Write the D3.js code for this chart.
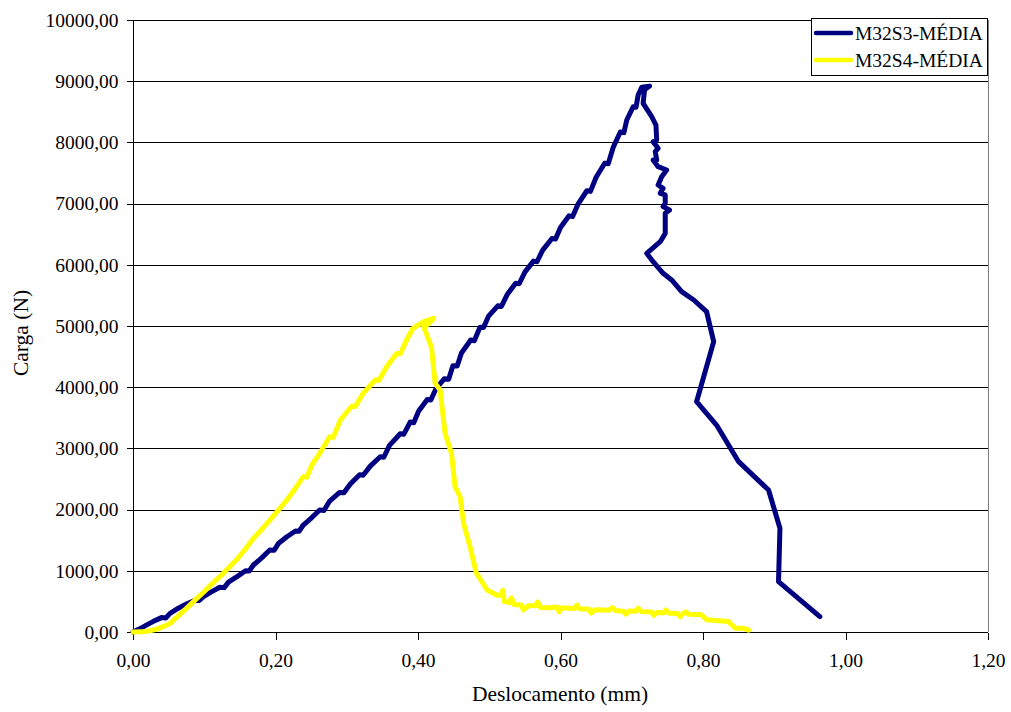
<!DOCTYPE html>
<html>
<head>
<meta charset="utf-8">
<script src="https://cdn.jsdelivr.net/npm/d3@7"></script>
<style>
  html, body { margin: 0; padding: 0; background: #ffffff; }
  svg text { font-family: "Liberation Serif", "Times New Roman", serif; fill: #000; }
</style>
</head>
<body>
<svg id="chart" width="1011" height="712"></svg>
<script>
// ---- Data ----
const seriesNames = ["M32S3-MÉDIA", "M32S4-MÉDIA"];
const xTicks = [0, 0.2, 0.4, 0.6, 0.8, 1.0, 1.2];
const yTicks = [0, 1000, 2000, 3000, 4000, 5000, 6000, 7000, 8000, 9000, 10000];

// M32S3-MÉDIA : [displacement (mm), load (N)]
const s3Points = [
  [0,0],[0.010,55],[0.020,120],[0.028,170],[0.040,235],[0.046,230],[0.052,305],[0.063,385],[0.075,458],
  [0.087,520],[0.093,515],[0.099,577],[0.110,655],[0.122,730],[0.128,725],[0.134,815],[0.146,904],[0.158,1000],
  [0.163,995],[0.169,1095],[0.181,1215],[0.192,1340],[0.198,1335],[0.204,1445],[0.216,1557],[0.228,1650],
  [0.233,1645],[0.239,1748],[0.251,1870],[0.262,1993],[0.268,1985],[0.276,2140],[0.290,2280],[0.296,2275],
  [0.305,2418],[0.318,2570],[0.323,2560],[0.333,2710],[0.347,2864],[0.352,2855],[0.360,3050],[0.375,3240],
  [0.380,3230],[0.389,3430],[0.394,3420],[0.401,3610],[0.413,3800],[0.418,3790],[0.425,3970],[0.437,4140],
  [0.443,4130],[0.449,4350],[0.455,4345],[0.461,4560],[0.474,4770],[0.479,4760],[0.487,4980],[0.492,4975],
  [0.499,5160],[0.512,5330],[0.517,5320],[0.525,5510],[0.537,5700],[0.542,5690],[0.550,5880],[0.562,6060],
  [0.567,6050],[0.575,6240],[0.588,6430],[0.593,6420],[0.600,6610],[0.612,6800],[0.617,6790],[0.625,7000],
  [0.637,7210],[0.642,7200],[0.650,7430],[0.662,7660],[0.667,7650],[0.674,7920],[0.684,8170],[0.689,8160],
  [0.693,8366],[0.702,8583],[0.706,8575],[0.709,8775],[0.714,8900],[0.725,8920],[0.718,8860],
  [0.716,8639],[0.728,8420],[0.734,8284],[0.735,8039],[0.730,8012],[0.737,7903],[0.733,7848],
  [0.735,7712],[0.730,7712],[0.737,7603],[0.749,7549],[0.742,7440],[0.737,7304],[0.744,7250],
  [0.740,7168],[0.747,7141],[0.747,7005],[0.744,6950],[0.753,6895],[0.747,6841],[0.747,6514],
  [0.740,6378],[0.721,6188],[0.730,6051],[0.744,5861],[0.756,5752],[0.770,5561],[0.787,5425],
  [0.805,5234],[0.810,4989],[0.815,4744],[0.791,3763],[0.819,3382],[0.850,2783],[0.892,2320],
  [0.908,1694],[0.906,822],[0.964,250]
];

// M32S4-MÉDIA : [displacement (mm), load (N)]
const s4Points = [
  [0,0],[0.020,10],[0.033,44],[0.045,100],[0.052,142],[0.063,260],[0.075,387],[0.087,520],
  [0.099,650],[0.110,780],[0.122,904],[0.134,1045],[0.146,1188],[0.158,1360],[0.169,1531],
  [0.181,1680],[0.192,1830],[0.204,1990],[0.216,2157],[0.228,2350],[0.239,2538],[0.244,2530],
  [0.251,2730],[0.262,2920],[0.276,3190],[0.281,3180],[0.291,3464],[0.307,3690],[0.312,3685],
  [0.323,3900],[0.340,4120],[0.345,4110],[0.356,4335],[0.370,4550],[0.375,4545],[0.384,4771],
  [0.393,4962],[0.408,5071],[0.422,5125],[0.412,5010],[0.408,4989],
  [0.419,4650],[0.424,4064],[0.431,3954],[0.438,3247],[0.447,2920],[0.452,2374],[0.459,2211],
  [0.464,1776],[0.473,1394],[0.482,959],[0.487,870],[0.497,686],[0.511,600],[0.515,600],
  [0.519,680],[0.521,500],[0.528,480],[0.531,560],[0.535,450],[0.545,440],[0.548,360],
  [0.555,430],[0.565,430],[0.568,490],[0.572,400],[0.585,395],[0.595,410],[0.598,330],
  [0.602,395],[0.620,385],[0.623,440],[0.627,380],[0.640,370],[0.643,310],[0.648,365],
  [0.668,355],[0.673,400],[0.677,350],[0.688,340],[0.692,290],[0.696,345],[0.705,340],
  [0.709,390],[0.713,335],[0.728,325],[0.731,270],[0.735,320],[0.745,315],[0.748,360],
  [0.752,310],[0.765,300],[0.768,250],[0.772,300],[0.776,330],[0.780,290],[0.798,280],
  [0.805,200],[0.836,170],[0.845,60],[0.857,60],[0.864,30]
];

const seriesColors = ["#000080", "#FFFF00"];

// ---- Layout ----
const svg = d3.select("#chart");
const plotL = 133, plotR = 988, plotT = 20, plotB = 632;
const fontSize = 19.5;
const titleSize = 21.5;

const x = d3.scaleLinear().domain([0, 1.2]).range([plotL, plotR]);
const y = d3.scaleLinear().domain([0, 10000]).range([plotB, plotT]);

const fmt = d => d3.format(".2f")(d).replace(".", ",");

// background
svg.append("rect").attr("width", 1011).attr("height", 712).attr("fill", "#fff");

// gridlines
svg.append("g").selectAll("line").data(yTicks.filter(d => d > 0)).join("line")
  .attr("x1", plotL).attr("x2", plotR)
  .attr("y1", d => Math.round(y(d)) + 0.5).attr("y2", d => Math.round(y(d)) + 0.5)
  .attr("stroke", "#000").attr("stroke-width", 1).attr("shape-rendering", "crispEdges");

// right border (gray)
svg.append("line").attr("x1", plotR + 0.5).attr("x2", plotR + 0.5).attr("y1", plotT).attr("y2", plotB)
  .attr("stroke", "#808080").attr("stroke-width", 1).attr("shape-rendering", "crispEdges");

// axes
const yAxis = d3.axisLeft(y).tickValues(yTicks).tickFormat(fmt).tickSize(7).tickPadding(8);
const gy = svg.append("g").attr("transform", `translate(${plotL + 0.5},0)`).call(yAxis);
const xAxis = d3.axisBottom(x).tickValues(xTicks).tickFormat(fmt).tickSize(7).tickPadding(14);
const gx = svg.append("g").attr("transform", `translate(0,${plotB + 0.5})`).call(xAxis);
[gx, gy].forEach(g => {
  g.select(".domain").attr("stroke", "#000").attr("shape-rendering", "crispEdges");
  g.selectAll(".tick line").attr("stroke", "#000").attr("shape-rendering", "crispEdges");
  g.selectAll("text").attr("font-family", "Liberation Serif, serif").attr("font-size", fontSize).attr("fill", "#000");
});
gy.select(".domain").attr("d", `M0,${plotT}V${plotB}`);
gx.select(".domain").attr("d", `M${plotL},0H${plotR}`);

// lines
const line = d3.line().x(d => x(d[0])).y(d => y(d[1]));
[s3Points, s4Points].forEach((pts, i) => {
  svg.append("path").datum(pts)
    .attr("fill", "none")
    .attr("stroke", seriesColors[i])
    .attr("stroke-width", 5)
    .attr("stroke-linejoin", "round")
    .attr("stroke-linecap", "round")
    .attr("d", line);
});

// axis titles
svg.append("text").attr("x", 560).attr("y", 701)
  .attr("text-anchor", "middle").attr("font-size", titleSize).text("Deslocamento (mm)");
svg.append("text").attr("transform", `translate(28,333) rotate(-90)`)
  .attr("text-anchor", "middle").attr("font-size", titleSize).text("Carga (N)");

// legend
const lg = svg.append("g");
lg.append("rect").attr("x", 811.5).attr("y", 18.5).attr("width", 176).attr("height", 57)
  .attr("fill", "#fff").attr("stroke", "#000").attr("stroke-width", 1);
seriesNames.forEach((name, i) => {
  const cy = 33 + i * 27;
  lg.append("line").attr("x1", 816).attr("x2", 851).attr("y1", cy).attr("y2", cy)
    .attr("stroke", seriesColors[i]).attr("stroke-width", 4.5).attr("stroke-linecap", "round");
  lg.append("text").attr("x", 855).attr("y", cy).attr("dy", "0.35em")
    .attr("font-size", fontSize).text(name);
});
</script>
</body>
</html>
